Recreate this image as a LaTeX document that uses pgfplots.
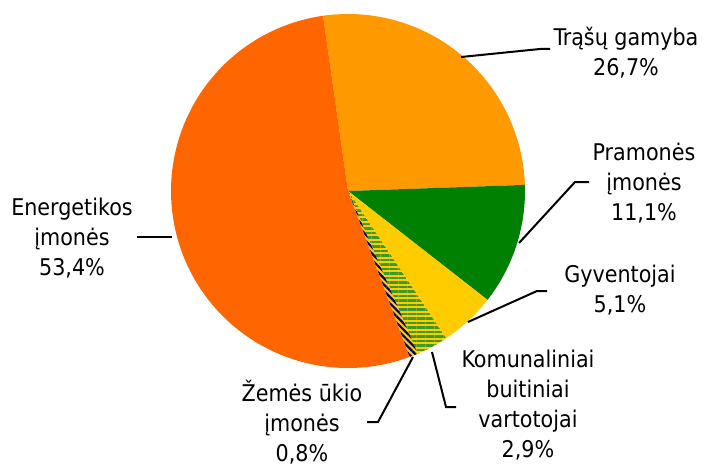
\documentclass[border=0pt]{standalone}
\usepackage{fontspec}
\setmainfont{DejaVu Sans Condensed}
\usepackage{pgfplots}
\usepackage{pgfplotstable}
\pgfplotsset{compat=1.18}
\usetikzlibrary{patterns.meta}
\definecolor{cEn}{HTML}{FF6600}
\definecolor{cTr}{HTML}{FF9900}
\definecolor{cPr}{HTML}{008000}
\definecolor{cGy}{HTML}{FFCC00}
\definecolor{cKoStripe}{HTML}{3A9A2C}
\definecolor{cZeStripe}{HTML}{000080}

\pgfplotstableread{
name value
Trasu 26.7
Pramones 11.1
Gyventojai 5.1
Komunaliniai 2.9
Zemes 0.8
Energetikos 53.4
}\piedata

\begin{document}%
\pgfmathsetmacro\aO{98.1}%
\pgfplotstablegetelem{0}{value}\of\piedata\pgfmathsetmacro\aA{\aO-3.6*\pgfplotsretval}%
\pgfplotstablegetelem{1}{value}\of\piedata\pgfmathsetmacro\aB{\aA-3.6*\pgfplotsretval}%
\pgfplotstablegetelem{2}{value}\of\piedata\pgfmathsetmacro\aC{\aB-3.6*\pgfplotsretval}%
\pgfplotstablegetelem{3}{value}\of\piedata\pgfmathsetmacro\aD{\aC-3.6*\pgfplotsretval}%
\pgfplotstablegetelem{4}{value}\of\piedata\pgfmathsetmacro\aE{\aD-3.6*\pgfplotsretval}%
\pgfplotstablegetelem{5}{value}\of\piedata\pgfmathsetmacro\aF{\aE-3.6*\pgfplotsretval}%
\begin{tikzpicture}
\useasboundingbox (0,0) rectangle (707pt,467pt);
\begin{axis}[
  at={(0,0)}, anchor=south west,
  x=1pt, y=1pt,
  xmin=0, xmax=707, ymin=0, ymax=467,
  hide axis, clip=false,
]
% pie slices
\addplot[draw=none, fill=cTr, domain=\aA:\aO, samples=90, variable=\t]
  ({348+177*cos(\t)},{276+177*sin(\t)}) -- (axis cs:348,276) -- cycle;
\addplot[draw=none, fill=cPr, domain=\aB:\aA, samples=50, variable=\t]
  ({348+177*cos(\t)},{276+177*sin(\t)}) -- (axis cs:348,276) -- cycle;
\addplot[draw=none, fill=cGy, domain=\aC:\aB, samples=30, variable=\t]
  ({348+177*cos(\t)},{276+177*sin(\t)}) -- (axis cs:348,276) -- cycle;
\addplot[draw=none, fill=cGy, postaction={pattern={Lines[angle=0,distance=4.5pt,line width=2.2pt]}, pattern color=cKoStripe},
  domain=\aD:\aC, samples=20, variable=\t]
  ({348+177*cos(\t)},{276+177*sin(\t)}) -- (axis cs:348,276) -- cycle;
\addplot[draw=none, fill=cGy, postaction={pattern={Lines[angle=-45,distance=4.5pt,line width=2.2pt]}, pattern color=cZeStripe},
  domain=\aE:\aD, samples=10, variable=\t]
  ({348+177*cos(\t)},{276+177*sin(\t)}) -- (axis cs:348,276) -- cycle;
\addplot[draw=none, fill=cEn, domain=\aF:\aE, samples=150, variable=\t]
  ({348+177*cos(\t)},{276+177*sin(\t)}) -- (axis cs:348,276) -- cycle;
% leader lines
\addplot[black, line width=2pt, mark=none] coordinates {(461,410) (540,418) (550,418)};
\addplot[black, line width=2pt, mark=none] coordinates {(519,224) (575,285) (589,285)};
\addplot[black, line width=2pt, mark=none] coordinates {(468,145) (537,176) (547,176)};
\addplot[black, line width=2pt, mark=none] coordinates {(432,115) (446,60) (456,60)};
\addplot[black, line width=2pt, mark=none] coordinates {(413,110) (378,45) (367,45)};
\addplot[black, line width=2pt, mark=none] coordinates {(137,230) (172,230)};
% labels
\tikzset{lab/.style={align=center, inner sep=0pt, font=\fontsize{23}{30}\selectfont}}
\node[lab] at (axis cs:626,414) {Trąšų gamyba\\26,7\%};
\node[lab] at (axis cs:644,284) {Pramonės\\įmonės\\11,1\%};
\node[lab] at (axis cs:620,177) {Gyventojai\\5,1\%};
\node[lab] at (axis cs:528,62) {Komunaliniai\\buitiniai\\vartotojai\\2,9\%};
\node[lab] at (axis cs:302,45) {Žemės ūkio\\įmonės\\0,8\%};
\node[lab] at (axis cs:72,229) {Energetikos\\įmonės\\53,4\%};
\end{axis}
\end{tikzpicture}%
\end{document}
